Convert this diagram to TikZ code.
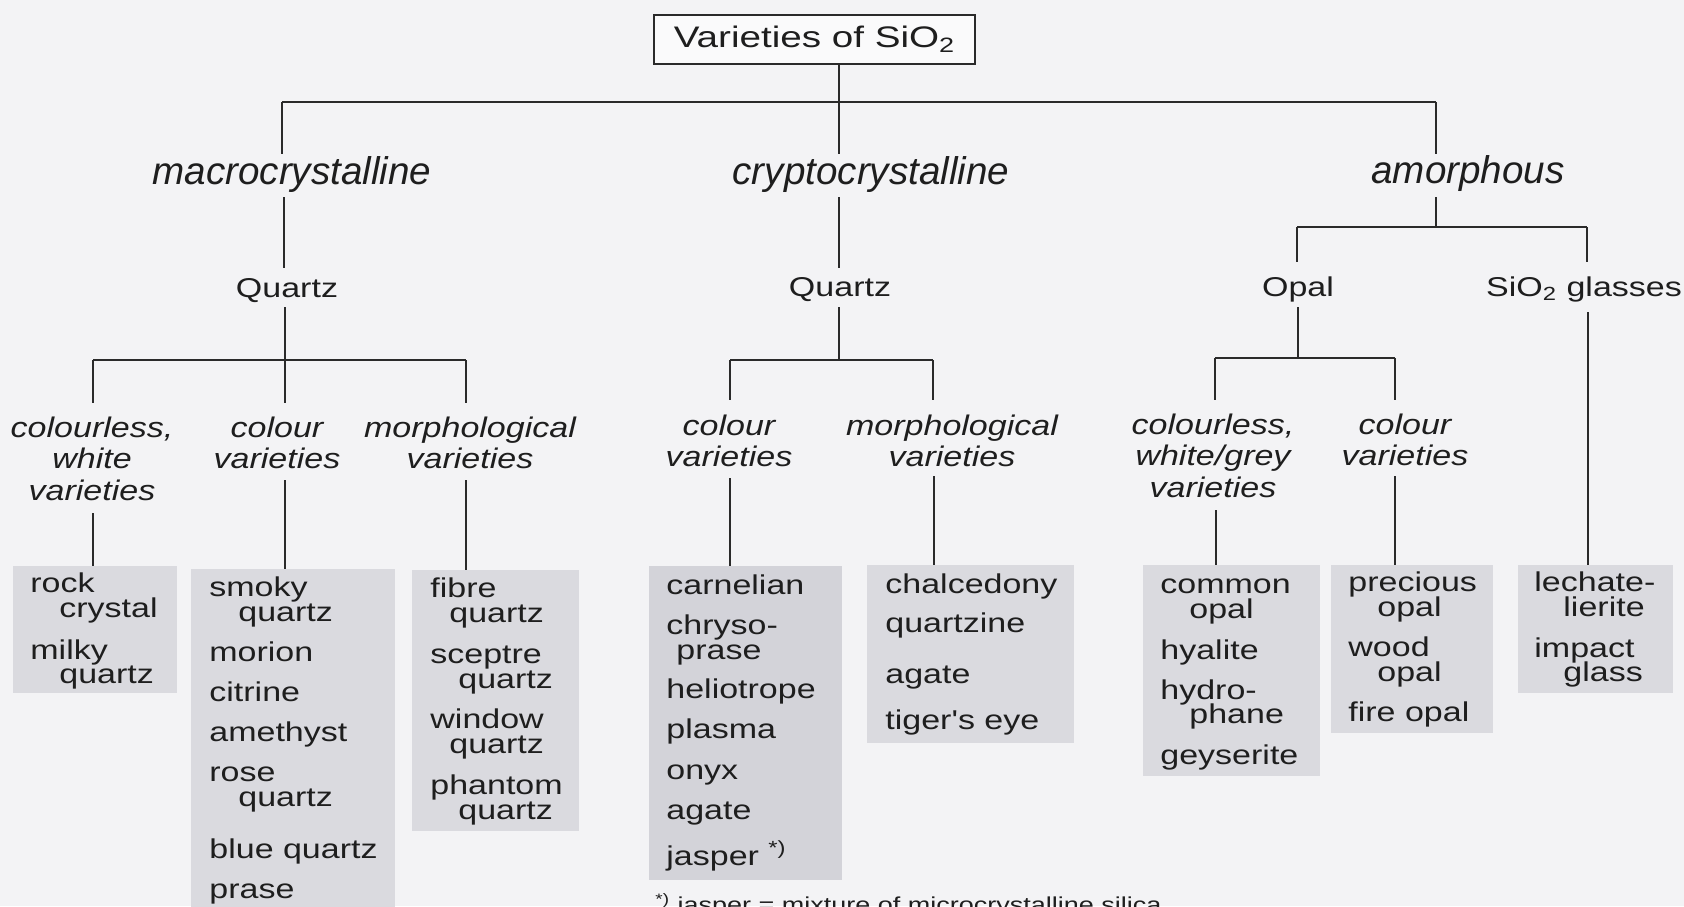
\documentclass[tikz,border=0pt]{standalone}
\usepackage{fontspec}
\setmainfont{Liberation Sans}
\newfontfamily\titf[FakeStretch=1.3]{Liberation Sans}
\newfontfamily\upf[FakeStretch=1.25]{Liberation Sans}
\newfontfamily\itf[FakeStretch=1.2]{Liberation Sans}
\definecolor{bgc}{HTML}{F3F3F5}
\definecolor{boxc}{HTML}{DADADF}
\definecolor{boxd}{HTML}{D3D3D9}
\definecolor{linec}{HTML}{2A2A2A}
\definecolor{txtc}{HTML}{1E1E1E}
\newcommand\fTitle{\titf\fontsize{14.85}{18}\selectfont}
\newcommand\fTop{\fontsize{19.3}{23}\selectfont}
\newcommand\fUp{\upf\fontsize{13.6}{16}\selectfont}
\newcommand\fIt{\itf\fontsize{14.17}{17}\selectfont\itshape}
\newcommand\fFoot{\upf\fontsize{10.8}{13}\selectfont}
\begin{document}
\begin{tikzpicture}[x=0.5pt,y=-0.5pt,
  ln/.style={draw=linec,line width=1pt},
  lvA/.style={font=\fTop\itshape,inner sep=0pt,anchor=base,text=txtc},
  lvB/.style={font=\fUp,inner sep=0pt,anchor=base,text=txtc},
  lvC/.style={font=\fIt,inner sep=0pt,anchor=base,text=txtc},
  itm/.style={font=\fUp,inner sep=0pt,anchor=base west,text=txtc},
  gbox/.style={fill=boxc,draw=none,inner sep=0pt,anchor=north west}]
\useasboundingbox (0,0) rectangle (1684,906);
\clip (0,0) rectangle (1684,906);
\fill[bgc] (0,0) rectangle (1684,906);

% title
\node[draw=linec,line width=1pt,fill=white!60!bgc,minimum width=160.5pt,minimum height=24.5pt,inner sep=0pt,font=\fTitle,text=txtc] (title) at (814.5,39.5) {Varieties of SiO\textsubscript{2}};

% grey boxes
\node[gbox,minimum width=82pt,minimum height=63.5pt] (B1) at (13,566) {};
\node[gbox,minimum width=102pt,minimum height=175.5pt] (B2) at (191,569) {};
\node[gbox,minimum width=83.5pt,minimum height=130.5pt] (B3) at (412,570) {};
\node[gbox,fill=boxd,minimum width=96.5pt,minimum height=157pt] (B4) at (649,566) {};
\node[gbox,minimum width=103.5pt,minimum height=89pt] (B5) at (867,565) {};
\node[gbox,minimum width=88.5pt,minimum height=105.5pt] (B6) at (1143,565) {};
\node[gbox,minimum width=81pt,minimum height=84pt] (B7) at (1331,565) {};
\node[gbox,minimum width=77.5pt,minimum height=64pt] (B8) at (1518,565) {};

% level 1
\node[lvA] (mac) at (292,184) {macrocrystalline};
\node[lvA] (cry) at (871,184) {cryptocrystalline};
\node[lvA] (amo) at (1468,183) {amorphous};

% level 2
\node[lvB] (q1) at (287,297) {Quartz};
\node[lvB] (q2) at (840,296) {Quartz};
\node[lvB] (opal) at (1298,296) {Opal};
\node[lvB] (glas) at (1584,296) {SiO\textsubscript{2} glasses};

% level 3
\node[lvC] (m1a) at (92,437) {colourless,};
\node[lvC] (m1b) at (92,468) {white};
\node[lvC] (m1c) at (92,500) {varieties};
\node[lvC] (m2a) at (277,437) {colour};
\node[lvC] (m2b) at (277,468) {varieties};
\node[lvC] (m3a) at (470,437) {morphological};
\node[lvC] (m3b) at (470,468) {varieties};
\node[lvC] (c1a) at (729,435) {colour};
\node[lvC] (c1b) at (729,466) {varieties};
\node[lvC] (c2a) at (952,435) {morphological};
\node[lvC] (c2b) at (952,466) {varieties};
\node[lvC] (o1a) at (1213,434) {colourless,};
\node[lvC] (o1b) at (1213,465) {white/grey};
\node[lvC] (o1c) at (1213,497) {varieties};
\node[lvC] (o2a) at (1405,434) {colour};
\node[lvC] (o2b) at (1405,465) {varieties};

% box items
\node[itm] (i11) at (30,592) {rock};
\node[itm] (i12) at (59,617) {crystal};
\node[itm] (i13) at (30,659) {milky};
\node[itm] (i14) at (59,683) {quartz};

\node[itm] (i21) at (209,596) {smoky};
\node[itm] (i22) at (238,621) {quartz};
\node[itm] (i23) at (209,661) {morion};
\node[itm] (i24) at (209,701) {citrine};
\node[itm] (i25) at (209,741) {amethyst};
\node[itm] (i26) at (209,781) {rose};
\node[itm] (i27) at (238,806) {quartz};
\node[itm] (i28) at (209,858) {blue quartz};
\node[itm] (i29) at (209,898) {prase};

\node[itm] (i31) at (430,597) {fibre};
\node[itm] (i32) at (449,622) {quartz};
\node[itm] (i33) at (430,663) {sceptre};
\node[itm] (i34) at (458,688) {quartz};
\node[itm] (i35) at (430,728) {window};
\node[itm] (i36) at (449,753) {quartz};
\node[itm] (i37) at (430,794) {phantom};
\node[itm] (i38) at (458,819) {quartz};

\node[itm] (i41) at (666,594) {carnelian};
\node[itm] (i42) at (666,634) {chryso-};
\node[itm] (i43) at (676,659) {prase};
\node[itm] (i44) at (666,698) {heliotrope};
\node[itm] (i45) at (666,738) {plasma};
\node[itm] (i46) at (666,779) {onyx};
\node[itm] (i47) at (666,819) {agate};
\node[itm] (i48) at (666,865) {jasper \textsuperscript{*)}};

\node[itm] (i51) at (885,593) {chalcedony};
\node[itm] (i52) at (885,632) {quartzine};
\node[itm] (i53) at (885,683) {agate};
\node[itm] (i54) at (885,729) {tiger's eye};

\node[itm] (i61) at (1160,593) {common};
\node[itm] (i62) at (1189,618) {opal};
\node[itm] (i63) at (1160,659) {hyalite};
\node[itm] (i64) at (1160,699) {hydro-};
\node[itm] (i65) at (1189,723) {phane};
\node[itm] (i66) at (1160,764) {geyserite};

\node[itm] (i71) at (1348,591) {precious};
\node[itm] (i72) at (1377,616) {opal};
\node[itm] (i73) at (1348,656) {wood};
\node[itm] (i74) at (1377,681) {opal};
\node[itm] (i75) at (1348,721) {fire opal};

\node[itm] (i81) at (1534,591) {lechate-};
\node[itm] (i82) at (1563,616) {lierite};
\node[itm] (i83) at (1534,657) {impact};
\node[itm] (i84) at (1563,681) {glass};

% footnote
\node[itm,font=\fFoot] (foot) at (655,912) {\textsuperscript{*)} jasper = mixture of microcrystalline silica};

% junction coordinates
\coordinate (j0) at (839,102);
\coordinate (jL) at (282,102);
\coordinate (jR) at (1436,102);
\coordinate (e1) at (282,154);
\coordinate (e2) at (839,154);
\coordinate (e3) at (1436,154);
\coordinate (k1) at (284,197);
\coordinate (k1e) at (284,268);
\coordinate (k2) at (839,197);
\coordinate (k2e) at (839,268);
\coordinate (k3) at (1436,197);
\coordinate (k3j) at (1436,227);
\coordinate (k3L) at (1297,227);
\coordinate (k3R) at (1587,227);
\coordinate (k3Le) at (1297,262);
\coordinate (k3Re) at (1587,262);
\coordinate (m0) at (285,307);
\coordinate (mj) at (285,360);
\coordinate (mL) at (93,360);
\coordinate (mR) at (466,360);
\coordinate (mLe) at (93,403);
\coordinate (mMe) at (285,403);
\coordinate (mRe) at (466,403);
\coordinate (c0) at (839,307);
\coordinate (cj) at (839,360);
\coordinate (cL) at (730,360);
\coordinate (cR) at (933,360);
\coordinate (cLe) at (730,400);
\coordinate (cRe) at (933,400);
\coordinate (o0) at (1298,307);
\coordinate (oj) at (1298,358);
\coordinate (oL) at (1215,358);
\coordinate (oR) at (1395,358);
\coordinate (oLe) at (1215,400);
\coordinate (oRe) at (1395,400);
\coordinate (g0) at (1588,312);
\coordinate (d1) at (93,513);
\coordinate (d2) at (285,480);
\coordinate (d3) at (466,480);
\coordinate (d4) at (730,478);
\coordinate (d5) at (934,476);
\coordinate (d6) at (1216,510);
\coordinate (d7) at (1395,476);

% connectors
\draw[ln] (title.south -| j0) -- (j0);
\draw[ln] (jL) -- (jR);
\draw[ln] (jL) -- (e1);
\draw[ln] (j0) -- (e2);
\draw[ln] (jR) -- (e3);
\draw[ln] (k1) -- (k1e);
\draw[ln] (k2) -- (k2e);
\draw[ln] (k3) -- (k3j);
\draw[ln] (k3L) -- (k3R);
\draw[ln] (k3L) -- (k3Le);
\draw[ln] (k3R) -- (k3Re);
\draw[ln] (m0) -- (mj);
\draw[ln] (mL) -- (mR);
\draw[ln] (mL) -- (mLe);
\draw[ln] (mj) -- (mMe);
\draw[ln] (mR) -- (mRe);
\draw[ln] (c0) -- (cj);
\draw[ln] (cL) -- (cR);
\draw[ln] (cL) -- (cLe);
\draw[ln] (cR) -- (cRe);
\draw[ln] (o0) -- (oj);
\draw[ln] (oL) -- (oR);
\draw[ln] (oL) -- (oLe);
\draw[ln] (oR) -- (oRe);
\draw[ln] (g0) -- (g0 |- B8.north);
\draw[ln] (d1) -- (d1 |- B1.north);
\draw[ln] (d2) -- (d2 |- B2.north);
\draw[ln] (d3) -- (d3 |- B3.north);
\draw[ln] (d4) -- (d4 |- B4.north);
\draw[ln] (d5) -- (d5 |- B5.north);
\draw[ln] (d6) -- (d6 |- B6.north);
\draw[ln] (d7) -- (d7 |- B7.north);
\end{tikzpicture}
\end{document}
